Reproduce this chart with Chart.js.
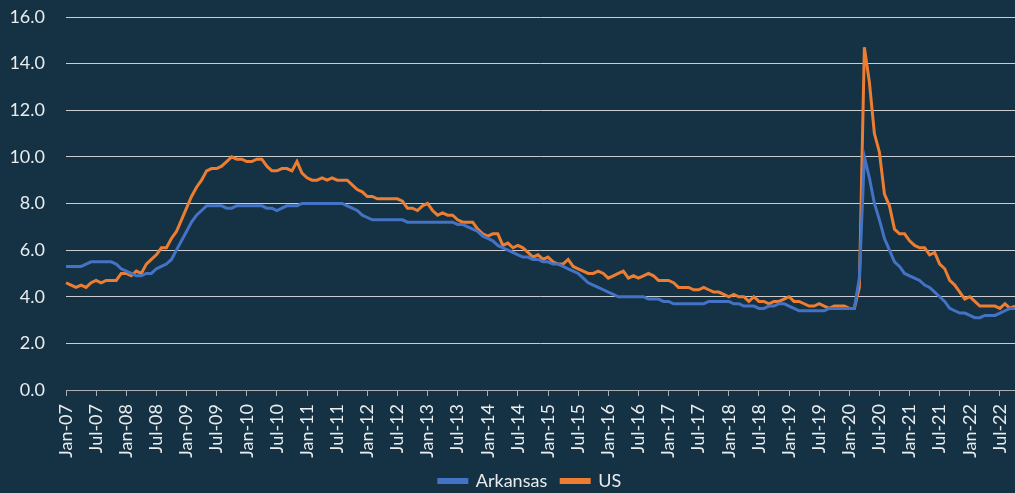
<!DOCTYPE html>
<html>
<head>
<meta charset="utf-8">
<script src="https://cdn.jsdelivr.net/npm/chart.js@4/dist/chart.umd.min.js"></script>
<style>
  html, body { margin: 0; padding: 0; background: #143244; }
  #wrap { width: 1015px; height: 493px; position: relative; }
</style>
</head>
<body>
<div id="wrap"><canvas id="chart"></canvas></div>
<script>
// Meses y años del eje X (mensual, ene-2007 a oct-2022)
const MESES = ['Jan', 'Feb', 'Mar', 'Apr', 'May', 'Jun', 'Jul', 'Aug', 'Sep', 'Oct', 'Nov', 'Dec'];
const ANIOS = ['07', '08', '09', '10', '11', '12', '13', '14', '15', '16', '17', '18', '19', '20', '21', '22'];
const ULTIMO_MES_2022 = 10;

// Tasa de desempleo (%) — Arkansas
const arkansas = [
  5.3, 5.3, 5.3, 5.3, 5.4, 5.5, 5.5, 5.5, 5.5, 5.5, 5.4, 5.2, // 2007
  5.1, 5.0, 4.9, 4.9, 5.0, 5.0, 5.2, 5.3, 5.4, 5.6, 6.0, 6.4, // 2008
  6.8, 7.2, 7.5, 7.7, 7.9, 7.9, 7.9, 7.9, 7.8, 7.8, 7.9, 7.9, // 2009
  7.9, 7.9, 7.9, 7.9, 7.8, 7.8, 7.7, 7.8, 7.9, 7.9, 7.9, 8.0, // 2010
  8.0, 8.0, 8.0, 8.0, 8.0, 8.0, 8.0, 8.0, 7.9, 7.8, 7.7, 7.5, // 2011
  7.4, 7.3, 7.3, 7.3, 7.3, 7.3, 7.3, 7.3, 7.2, 7.2, 7.2, 7.2, // 2012
  7.2, 7.2, 7.2, 7.2, 7.2, 7.2, 7.1, 7.1, 7.0, 6.9, 6.8, 6.6, // 2013
  6.5, 6.4, 6.2, 6.1, 6.0, 5.9, 5.8, 5.7, 5.7, 5.6, 5.6, 5.5, // 2014
  5.5, 5.4, 5.4, 5.3, 5.2, 5.1, 5.0, 4.8, 4.6, 4.5, 4.4, 4.3, // 2015
  4.2, 4.1, 4.0, 4.0, 4.0, 4.0, 4.0, 4.0, 3.9, 3.9, 3.9, 3.8, // 2016
  3.8, 3.7, 3.7, 3.7, 3.7, 3.7, 3.7, 3.7, 3.8, 3.8, 3.8, 3.8, // 2017
  3.8, 3.7, 3.7, 3.6, 3.6, 3.6, 3.5, 3.5, 3.6, 3.6, 3.7, 3.7, // 2018
  3.6, 3.5, 3.4, 3.4, 3.4, 3.4, 3.4, 3.4, 3.5, 3.5, 3.5, 3.5, // 2019
  3.5, 3.5, 4.8, 10.0, 9.1, 8.0, 7.3, 6.5, 6.0, 5.5, 5.3, 5.0, // 2020
  4.9, 4.8, 4.7, 4.5, 4.4, 4.2, 4.0, 3.8, 3.5, 3.4, 3.3, 3.3, // 2021
  3.2, 3.1, 3.1, 3.2, 3.2, 3.2, 3.3, 3.4, 3.5, 3.5            // 2022
];

// Tasa de desempleo (%) — Estados Unidos
const us = [
  4.6, 4.5, 4.4, 4.5, 4.4, 4.6, 4.7, 4.6, 4.7, 4.7, 4.7, 5.0, // 2007
  5.0, 4.9, 5.1, 5.0, 5.4, 5.6, 5.8, 6.1, 6.1, 6.5, 6.8, 7.3, // 2008
  7.8, 8.3, 8.7, 9.0, 9.4, 9.5, 9.5, 9.6, 9.8, 10.0, 9.9, 9.9, // 2009
  9.8, 9.8, 9.9, 9.9, 9.6, 9.4, 9.4, 9.5, 9.5, 9.4, 9.8, 9.3, // 2010
  9.1, 9.0, 9.0, 9.1, 9.0, 9.1, 9.0, 9.0, 9.0, 8.8, 8.6, 8.5, // 2011
  8.3, 8.3, 8.2, 8.2, 8.2, 8.2, 8.2, 8.1, 7.8, 7.8, 7.7, 7.9, // 2012
  8.0, 7.7, 7.5, 7.6, 7.5, 7.5, 7.3, 7.2, 7.2, 7.2, 6.9, 6.7, // 2013
  6.6, 6.7, 6.7, 6.2, 6.3, 6.1, 6.2, 6.1, 5.9, 5.7, 5.8, 5.6, // 2014
  5.7, 5.5, 5.4, 5.4, 5.6, 5.3, 5.2, 5.1, 5.0, 5.0, 5.1, 5.0, // 2015
  4.8, 4.9, 5.0, 5.1, 4.8, 4.9, 4.8, 4.9, 5.0, 4.9, 4.7, 4.7, // 2016
  4.7, 4.6, 4.4, 4.4, 4.4, 4.3, 4.3, 4.4, 4.3, 4.2, 4.2, 4.1, // 2017
  4.0, 4.1, 4.0, 4.0, 3.8, 4.0, 3.8, 3.8, 3.7, 3.8, 3.8, 3.9, // 2018
  4.0, 3.8, 3.8, 3.7, 3.6, 3.6, 3.7, 3.6, 3.5, 3.6, 3.6, 3.6, // 2019
  3.5, 3.5, 4.4, 14.7, 13.2, 11.0, 10.2, 8.4, 7.9, 6.9, 6.7, 6.7, // 2020
  6.4, 6.2, 6.1, 6.1, 5.8, 5.9, 5.4, 5.2, 4.7, 4.5, 4.2, 3.9, // 2021
  4.0, 3.8, 3.6, 3.6, 3.6, 3.6, 3.5, 3.7, 3.5, 3.6            // 2022
];

// Etiquetas "Jan-07", "Feb-07", ...
const etiquetas = [];
ANIOS.forEach((anio, k) => {
  const n = k === ANIOS.length - 1 ? ULTIMO_MES_2022 : 12;
  for (let m = 0; m < n; m++) etiquetas.push(MESES[m] + '-' + anio);
});

const COLOR_TEXTO = '#e9ecee';
const COLOR_GRILLA = '#c9cdd0';
const COLOR_EJE = '#a9afb3';
const FUENTE = 'Lato, "Open Sans", sans-serif';

/** Corre la leyenda a la derecha para que quede centrada como en el original */
const correrLeyenda = {
  id: 'correrLeyenda',
  afterLayout(chart) {
    if (!chart.legend) return;
    chart.legend.left += 18;
    chart.legend.right += 18;
  },
};

new Chart(document.getElementById('chart'), {
  type: 'line',
  data: {
    labels: etiquetas,
    datasets: [
      { label: 'Arkansas', data: arkansas, borderColor: '#4472c4', backgroundColor: '#4472c4', borderWidth: 3, pointRadius: 0, tension: 0 },
      { label: 'US', data: us, borderColor: '#ed7d31', backgroundColor: '#ed7d31', borderWidth: 3, pointRadius: 0, tension: 0 },
    ],
  },
  plugins: [correrLeyenda],
  options: {
    responsive: true,
    maintainAspectRatio: false,
    animation: false,
    layout: { padding: { left: 9, right: 0, top: 0, bottom: -7 } },
    plugins: {
      tooltip: { enabled: false },
      legend: {
        position: 'bottom',
        labels: { color: COLOR_TEXTO, font: { family: FUENTE, size: 18 }, boxWidth: 28, boxHeight: 3, padding: 14 },
      },
    },
    scales: {
      x: {
        offset: false,
        // una etiqueta cada 6 meses
        afterBuildTicks: axis => { axis.ticks = axis.ticks.filter(t => t.value % 6 === 0); },
        afterFit: axis => { axis.height = 68; axis.paddingLeft = 0; axis.paddingRight = 0; },
        ticks: { color: COLOR_TEXTO, font: { family: FUENTE, size: 18 }, autoSkip: false, minRotation: 90, maxRotation: 90, padding: 8 },
        grid: { drawOnChartArea: false, drawTicks: true, tickLength: 6, color: COLOR_EJE },
        border: { color: COLOR_EJE, width: 1 },
      },
      y: {
        min: 0,
        max: 16,
        afterFit: axis => { axis.width = 57; axis.paddingTop = 17; axis.paddingBottom = 11; },
        ticks: { stepSize: 2, color: COLOR_TEXTO, font: { family: FUENTE, size: 18 }, padding: 21, callback: v => v.toFixed(1) },
        grid: { color: COLOR_GRILLA, drawTicks: false, lineWidth: 1 },
        border: { display: false },
      },
    },
  },
});
</script>
</body>
</html>
